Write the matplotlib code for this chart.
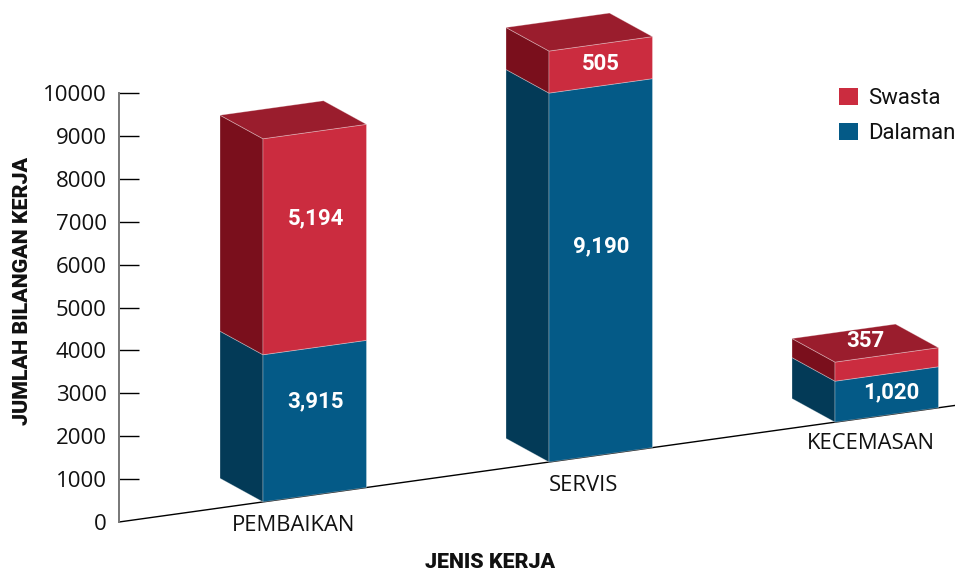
import matplotlib
matplotlib.use("Agg")
import matplotlib.pyplot as plt
from matplotlib.patches import Patch

# Data
categories = ["PEMBAIKAN", "SERVIS", "KECEMASAN"]
series_names = ["Swasta", "Dalaman"]
dalaman_labels = ["3,915", "9,190", "1,020"]
swasta_labels = ["5,194", "505", "357"]
# block heights as read against the y axis (drawing is not to scale with the labels)
dalaman_heights = [3430, 8600, 955]
swasta_heights = [5035, 980, 445]
y_ticks = [0, 1000, 2000, 3000, 4000, 5000, 6000, 7000, 8000, 9000, 10000]

# Colours
red_front, red_top, red_side = "#CB2C3F", "#9A1D2D", "#7A0F1C"
blue_front, blue_side = "#045A87", "#033A57"
edge = "#FFFFFF55"

# Layout (x axis runs in pixels, y axis in values)
bar_left = [263, 549, 835]
bar_width = 103.5
depth_x = -43
depth_y = 550
ground_slope = 3.25  # value units per pixel along the floor line

dalaman_label_pos = [(315, 2820), (601, 6430), (891, 3030)]
swasta_label_pos = [(316, 7085), (601, 10670), (865, 4225)]
category_pos = [(294, -70), (583.5, 840), (870.5, 1825)]


def ground(x):
    return (x - 119) * ground_slope


def side_poly(x, y0, y1):
    return [(x, y0), (x + depth_x, y0 + depth_y), (x + depth_x, y1 + depth_y), (x, y1)]


def front_poly(x, y0, y1):
    rise = bar_width * ground_slope
    return [(x, y0), (x + bar_width, y0 + rise), (x + bar_width, y1 + rise), (x, y1)]


def top_poly(x, y):
    rise = bar_width * ground_slope
    return [(x, y), (x + bar_width, y + rise),
            (x + bar_width + depth_x, y + rise + depth_y), (x + depth_x, y + depth_y)]


fig = plt.figure(figsize=(9.55, 5.7), dpi=100)
ax = fig.add_axes([119 / 955, 48 / 570, 836 / 955, 429 / 570])
ax.set_xlim(119, 955)
ax.set_ylim(0, 10000)

# Floor line
ax.plot([119, 955], [ground(119), ground(955)], color="black", lw=1, clip_on=False, zorder=1)

for i, x in enumerate(bar_left):
    y0 = ground(x)
    y1 = y0 + dalaman_heights[i]
    y2 = y1 + swasta_heights[i]

    faces = [
        (side_poly(x, y0, y1), blue_side),
        (front_poly(x, y0, y1), blue_front),
        (side_poly(x, y1, y2), red_side),
        (front_poly(x, y1, y2), red_front),
        (top_poly(x, y2), red_top),
    ]
    for poly, color in faces:
        ax.fill(*zip(*poly), facecolor=color, edgecolor=edge, lw=0.6, clip_on=False, zorder=2)

    ax.text(*dalaman_label_pos[i], dalaman_labels[i], color="white", family="Roboto", weight="bold",
            fontsize=16, ha="center", va="center", clip_on=False, zorder=3)
    ax.text(*swasta_label_pos[i], swasta_labels[i], color="white", family="Roboto", weight="bold",
            fontsize=16, ha="center", va="center", clip_on=False, zorder=3)
    ax.text(*category_pos[i], categories[i], family="Open Sans", fontsize=15.8,
            color="#111111", ha="center", va="center", clip_on=False)

# Axes
for side in ["top", "right", "bottom"]:
    ax.spines[side].set_visible(False)
ax.spines["left"].set_color("#777777")
ax.spines["left"].set_linewidth(1.4)
ax.set_xticks([])
ax.set_yticks(y_ticks)
ax.tick_params(axis="y", direction="in", length=14.5, width=1, color="black", pad=9, labelsize=16)
for lab in ax.get_yticklabels():
    lab.set_family("Open Sans")
    lab.set_color("#111111")
ax.yaxis.get_major_ticks()[0].tick1line.set_visible(False)
ax.patch.set_visible(False)

fig.text(23 / 955, 1 - 291 / 570, "JUMLAH BILANGAN KERJA", family="Roboto", weight="black", fontsize=15.4,
         rotation=90, ha="center", va="center", color="#111111")
fig.text(490 / 955, 1 - 562 / 570, "JENIS KERJA", family="Roboto", weight="black", fontsize=15.4,
         ha="center", va="center", color="#111111")

handles = [Patch(facecolor=red_front, label=series_names[0]),
           Patch(facecolor=blue_front, label=series_names[1])]
fig.legend(handles=handles, loc="upper left", bbox_to_anchor=(839 / 955, 1 - 87.5 / 570), frameon=False,
           borderpad=0, borderaxespad=0, prop={"family": "Roboto", "size": 15.9},
           handlelength=0.86, handleheight=0.86, handletextpad=0.46, labelspacing=0.62,
           labelcolor="#111111")

fig.savefig("out.png", dpi=100)
